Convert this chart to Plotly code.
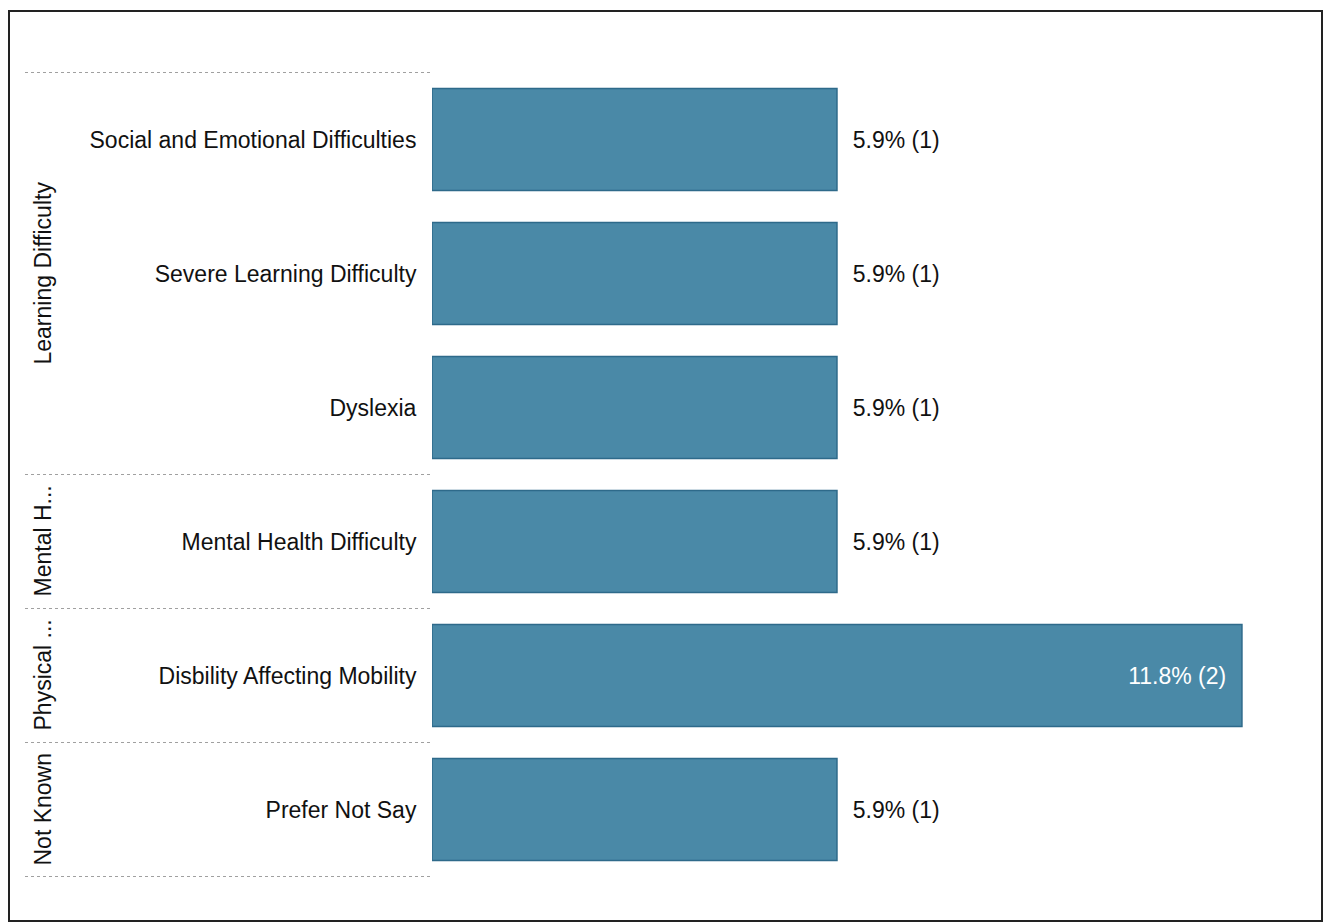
import plotly.graph_objects as go

categories = ["Social and Emotional Difficulties", "Severe Learning Difficulty", "Dyslexia",
              "Mental Health Difficulty", "Disbility Affecting Mobility", "Prefer Not Say"]
groups = ["Learning Difficulty", "Learning Difficulty", "Learning Difficulty",
          "Mental H...", "Physical ...", "Not Known"]
percent = [5.9, 5.9, 5.9, 5.9, 11.8, 5.9]
counts = [1, 1, 1, 1, 2, 1]

W, H = 1330, 924
ml, mr, mt, mb = 432, 40, 72, 47
pw = W - ml - mr
ph = H - mt - mb
FONT = "Liberation Sans, Arial, sans-serif"

def px_x(p):
    return (p - ml) / pw

def px_y(p):
    return (H - mb - p) / ph

maxv = max(percent)
NB = "\u00a0"
labels = []
positions = []
colors = []
for v, c in zip(percent, counts):
    t = f"{v}% ({c})"
    if v == maxv:
        labels.append(t + NB * 2)
        positions.append("inside")
        colors.append("white")
    else:
        labels.append(NB * 2 + t)
        positions.append("outside")
        colors.append("#111111")

fig = go.Figure(go.Bar(
    x=percent, y=categories, orientation="h",
    text=labels, textposition=positions,
    insidetextanchor="end",
    textfont=dict(size=23, color=colors, family=FONT),
    marker=dict(color="#4a89a7", line=dict(color="#2e6a8a", width=1.5)),
    cliponaxis=False,
))

shapes = []
bounds = [-0.5]
for i in range(1, len(groups)):
    if groups[i] != groups[i - 1]:
        bounds.append(i - 0.5)
bounds.append(len(groups) - 0.5)
for b in bounds:
    shapes.append(dict(type="line", xref="paper", yref="y", x0=px_x(25), x1=px_x(432),
                       y0=b, y1=b, line=dict(color="#a0a0a0", width=1, dash="dot")))

shapes.append(dict(type="rect", xref="paper", yref="paper", x0=px_x(9), x1=px_x(1322),
                   y0=px_y(921), y1=px_y(11), line=dict(color="#222222", width=2),
                   fillcolor="rgba(0,0,0,0)", layer="below"))

annotations = []
start = 0
for i in range(1, len(groups) + 1):
    if i == len(groups) or groups[i] != groups[start]:
        annotations.append(dict(text=groups[start], xref="paper", yref="y",
                                x=px_x(42), y=(start + i - 1) / 2, textangle=-90,
                                showarrow=False, xanchor="center", yanchor="middle",
                                font=dict(size=23, color="#111111", family=FONT)))
        start = i

fig.update_layout(
    width=W, height=H,
    margin=dict(l=ml, r=mr, t=mt, b=mb),
    paper_bgcolor="white", plot_bgcolor="white",
    bargap=0.24,
    showlegend=False,
    shapes=shapes,
    annotations=annotations,
    font=dict(family=FONT, size=23, color="#111111"),
    xaxis=dict(range=[0, 12.5], visible=False, showgrid=False, zeroline=False),
    yaxis=dict(autorange="reversed", showgrid=False, zeroline=False, showline=False,
               ticks="outside", ticklen=10, tickcolor="rgba(0,0,0,0)",
               tickfont=dict(size=23, color="#111111")),
)

fig.write_html("out.html", config={"displayModeBar": False},
               post_script="document.body.style.margin='0';")
